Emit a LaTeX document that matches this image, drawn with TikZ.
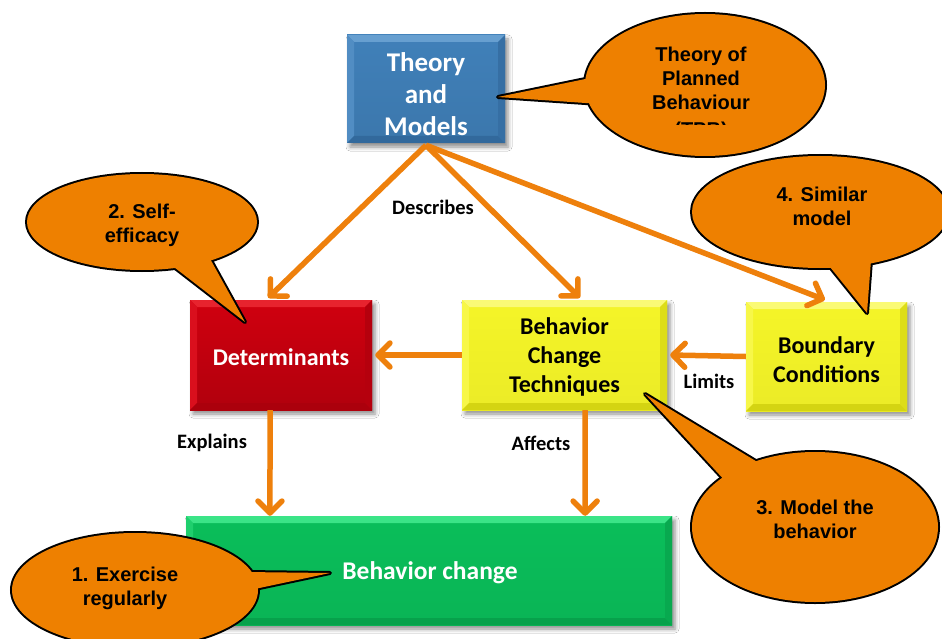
\documentclass[tikz,border=0pt]{standalone}
\usepackage{fontspec}
\newfontfamily\boxfont{Carlito}
\newfontfamily\bubblefont{Liberation Sans}
\usetikzlibrary{arrows.meta,calc,shadows.blur}

\definecolor{bubbleorange}{RGB}{238,128,0}
\definecolor{arroworange}{RGB}{238,128,12}
\definecolor{blueF}{RGB}{64,128,185}
\definecolor{blueL}{RGB}{120,172,218}
\definecolor{blueD}{RGB}{38,86,132}
\definecolor{redF}{RGB}{208,0,15}
\definecolor{redL}{RGB}{240,50,60}
\definecolor{redD}{RGB}{140,0,10}
\definecolor{yelF}{RGB}{245,245,40}
\definecolor{yelL}{RGB}{252,252,150}
\definecolor{yelD}{RGB}{185,185,0}
\definecolor{grnF}{RGB}{10,190,90}
\definecolor{grnL}{RGB}{80,245,155}
\definecolor{grnD}{RGB}{5,138,62}

\tikzset{
  bevelbox/.style n args={4}{
    top color=#1, bottom color=#1!#4!black, inner sep=0pt,
    blur shadow={shadow xshift=3pt, shadow yshift=-4pt,
                 shadow blur radius=4pt, shadow opacity=45},
    path picture={
      \coordinate (pNW) at (path picture bounding box.north west);
      \coordinate (pNE) at (path picture bounding box.north east);
      \coordinate (pSW) at (path picture bounding box.south west);
      \coordinate (pSE) at (path picture bounding box.south east);
      \fill[#2!70!#1] (pNW) -- (pNE) -- ([shift={(-7pt,-7pt)}]pNE)
                -- ([shift={(7pt,-7pt)}]pNW) -- cycle;
      \fill[#2!30!#1] (pNW) -- ([shift={(7pt,-7pt)}]pNW)
                -- ([shift={(7pt,7pt)}]pSW) -- (pSW) -- cycle;
      \fill[#3!55!#1] (pSW) -- ([shift={(7pt,7pt)}]pSW)
                -- ([shift={(-7pt,7pt)}]pSE) -- (pSE) -- cycle;
      \fill[#3!40!#1] (pSE) -- ([shift={(-7pt,7pt)}]pSE)
                -- ([shift={(-7pt,-7pt)}]pNE) -- (pNE) -- cycle;
    }
  },
  boxtext/.style={font=\boxfont\bfseries\fontsize{24}{29}\selectfont,
                  align=center, inner sep=0pt},
  conn/.style={draw=arroworange, line width=5.5pt,
               -{Straight Barb[length=12pt,width=24pt,round]}},
  lbl/.style={font=\boxfont\bfseries\fontsize{20.5}{24}\selectfont, text=black, inner sep=0pt},
  bubbletext/.style={font=\bubblefont\bfseries\fontsize{20}{24}\selectfont,
                     align=center, text=black, inner sep=0pt},
}

% speech bubble: centre, x radius, y radius, tail tip, two tail base points
\newcommand\speechbubble[6]{%
  \draw[line width=4pt] (#1) ellipse[x radius=#2pt, y radius=#3pt];
  \draw[line width=4pt, line join=round] (#4) -- (#5) -- (#6) -- cycle;
  \fill[bubbleorange] (#1) ellipse[x radius=#2pt, y radius=#3pt];
  \fill[bubbleorange] (#4) -- (#5) -- (#6) -- cycle;
}

\begin{document}
\begin{tikzpicture}[x=1pt,y=-1pt]
\useasboundingbox (0,0) rectangle (942,639);
\clip (0,0) rectangle (942,639);
\fill[white] (0,0) rectangle (942,639);

% boxes
\node[bevelbox={blueF}{blueL}{blueD}{93}, minimum width=158pt, minimum height=108pt]
      (theory) at (426,89) {};
\node[boxtext, text=white, font=\boxfont\bfseries\fontsize{27}{32}\selectfont]
      (theorytxt) at (426,94) {Theory\\and\\Models};
\node[bevelbox={redF}{redL}{redD}{85}, minimum width=182pt, minimum height=110pt]
      (det) at (281,355) {};
\node[boxtext, text=white] (dettxt) at (281,357) {Determinants};
\node[bevelbox={yelF}{yelL}{yelD}{96}, minimum width=205pt, minimum height=110pt]
      (bct) at (564.5,355) {};
\node[boxtext, text=black] (bcttxt) at (564.5,357) {Behavior\\Change\\Techniques};
\node[bevelbox={yelF}{yelL}{yelD}{96}, minimum width=161pt, minimum height=109pt]
      (bound) at (826.5,356.5) {};
\node[boxtext, text=black] (boundtxt) at (826.5,360) {Boundary\\Conditions};
\node[bevelbox={grnF}{grnL}{grnD}{95}, minimum width=486pt, minimum height=109pt]
      (change) at (429,570.5) {};
\node[boxtext, text=white, font=\boxfont\bfseries\fontsize{25.5}{30}\selectfont]
      (changetxt) at (430,573) {Behavior change};

% connectors
\coordinate (apex) at ([yshift=-2pt]theory.south);
\draw[conn] (apex) -- ([yshift=2pt]$(det.north west)!0.43!(det.north east)$);
\draw[conn] (apex) -- ([yshift=2pt]$(bct.north west)!0.575!(bct.north east)$);
\draw[conn] (apex) -- ([yshift=2pt]$(bound.north west)!0.49!(bound.north east)$);
\draw[conn] (bct.west) -- ([xshift=3pt]det.east);
\draw[conn] (bound.west) -- ([xshift=3pt]bct.east);
\draw[conn] ($(det.south west)!0.44!(det.south east)$) --
            ($(change.north west)!0.173!(change.north east)$);
\draw[conn] ($(bct.south west)!0.6!(bct.south east)$) --
            ($(change.north west)!0.821!(change.north east)$);

% connector labels
\node[lbl] (ldesc) at (433,207) {Describes};
\node[lbl] (llim) at (709,381) {Limits};
\node[lbl] (lexp) at (212,443) {Explains};
\node[lbl] (laff) at (541,443) {Affects};

% speech bubbles
\coordinate (tipA) at (498,97);
\speechbubble{705,85}{120}{71}{tipA}{600,76}{600,104}
\begin{scope}
  \clip (580,0) rectangle (830,124.5);
  \node[bubbletext, anchor=north] (tpb) at (701,46.5)
        {Theory of\\Planned\\Behaviour\\[3pt](TPB)};
\end{scope}

\coordinate (tipB) at (867,313);
\speechbubble{820,212}{128}{56}{tipB}{826,262}{871,260}
\node[bubbletext] (similar) at (822,206) {4. Similar\\model};

\coordinate (tipC) at (245,322);
\speechbubble{142,222}{115}{48}{tipC}{170,264}{208,255}
\node[bubbletext] (selfeff) at (142,225) {2. Self-\\efficacy};

\coordinate (tipD) at (645,394);
\speechbubble{815,527}{123}{75}{tipD}{728,484}{764,466}
\node[bubbletext] (modelbeh) at (815,519) {3. Model the\\behavior};

\coordinate (tipE) at (330,573);
\speechbubble{135,590}{123}{57}{tipE}{244,572}{250,590}
\node[bubbletext] (exercise) at (125,588) {1. Exercise\\regularly};
\end{tikzpicture}
\end{document}
